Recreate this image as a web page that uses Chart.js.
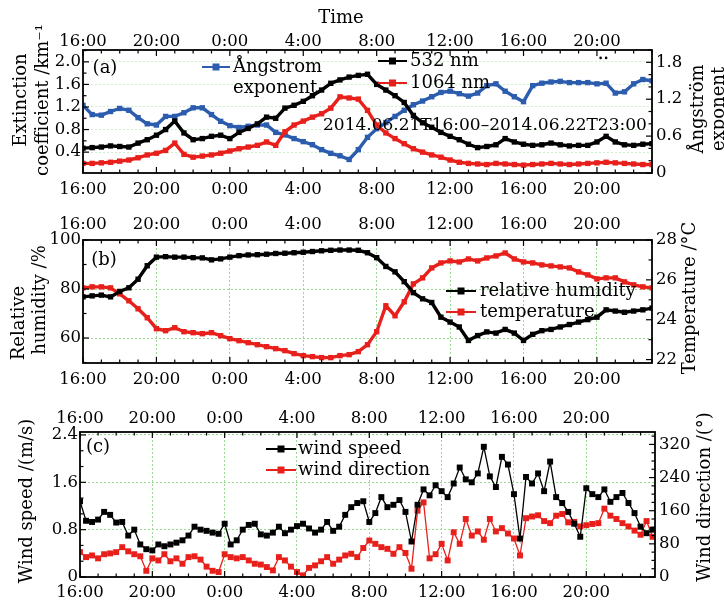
<!DOCTYPE html>
<html>
<head>
<meta charset="utf-8">
<script src="https://cdn.jsdelivr.net/npm/chart.js@4.4.1/dist/chart.umd.min.js"></script>
<style>
  html, body { margin: 0; padding: 0; background: #fff; }
  #wrap { position: relative; width: 724px; height: 601px; }
  canvas { position: absolute; left: 0; }
</style>
</head>
<body>
<div id="wrap">
  <canvas id="chart-a" width="724" height="200" style="top:0px"></canvas>
  <canvas id="chart-b" width="724" height="200" style="top:200px"></canvas>
  <canvas id="chart-c" width="724" height="201" style="top:400px"></canvas>
</div>
<script>
// Time axis: hours after 2014-06-21 16:00
const timeTicks = [0, 4, 8, 12, 16, 20, 24, 28];
const timeLabels = ['16:00', '20:00', '0:00', '4:00', '8:00', '12:00', '16:00', '20:00'];

// Panels (a) and (b) are sampled every 30 min, panel (c) every 20 min
const stepAB = 0.5;
const stepC = 1 / 3;

// (a) extinction coefficient (km^-1) and Angstrom exponent
const ext532 = [0.47, 0.48, 0.49, 0.51, 0.50, 0.49, 0.56, 0.62, 0.70, 0.80, 0.95, 0.74, 0.62, 0.64, 0.68, 0.70,
  0.64, 0.75, 0.82, 0.90, 1.02, 1.00, 1.18, 1.23, 1.30, 1.40, 1.50, 1.62, 1.68, 1.73, 1.76, 1.78,
  1.60, 1.50, 1.40, 1.28, 1.05, 0.92, 0.84, 0.75, 0.68, 0.62, 0.54, 0.48, 0.50, 0.53, 0.64, 0.58,
  0.54, 0.52, 0.53, 0.56, 0.53, 0.51, 0.52, 0.52, 0.58, 0.68, 0.58, 0.53, 0.52, 0.54, 0.55];
const ext1064 = [0.20, 0.20, 0.21, 0.22, 0.24, 0.26, 0.30, 0.35, 0.38, 0.43, 0.56, 0.36, 0.31, 0.33, 0.35, 0.38,
  0.42, 0.46, 0.49, 0.52, 0.58, 0.52, 0.76, 0.88, 0.95, 1.02, 1.08, 1.18, 1.38, 1.36, 1.34, 1.14,
  0.88, 0.74, 0.64, 0.55, 0.46, 0.40, 0.35, 0.31, 0.26, 0.22, 0.20, 0.19, 0.18, 0.20, 0.19, 0.18,
  0.17, 0.18, 0.19, 0.20, 0.19, 0.18, 0.19, 0.20, 0.21, 0.22, 0.21, 0.20, 0.19, 0.18, 0.18];
const angstrom = [1.10, 0.95, 0.94, 1.00, 1.05, 1.02, 0.90, 0.80, 0.78, 0.92, 0.92, 0.98, 1.06, 1.06, 0.95, 0.84,
  0.77, 0.74, 0.76, 0.78, 0.78, 0.66, 0.62, 0.56, 0.51, 0.46, 0.38, 0.32, 0.28, 0.22, 0.38, 0.58,
  0.72, 0.82, 0.92, 1.02, 1.11, 1.17, 1.24, 1.31, 1.33, 1.29, 1.25, 1.30, 1.42, 1.45, 1.33, 1.24,
  1.16, 1.42, 1.46, 1.48, 1.49, 1.47, 1.47, 1.47, 1.45, 1.46, 1.30, 1.32, 1.45, 1.52, 1.50];
const strayHours = [28.2, 28.5];
const strayExt = [2.07, 2.07];

// (b) relative humidity (%) and temperature (deg C)
const humidity = [76.8, 77.2, 77.5, 76.8, 79.0, 80.5, 84.0, 89.5, 93.0, 93.2, 93.0, 93.0, 92.8, 92.7, 91.9, 92.3,
  93.0, 93.6, 93.9, 94.0, 94.2, 94.5, 94.6, 94.8, 95.0, 95.3, 95.6, 95.8, 95.9, 95.9, 95.8, 94.8,
  92.8, 89.2, 87.0, 83.0, 78.5, 76.0, 74.5, 68.5, 66.5, 64.5, 59.0, 61.0, 62.5, 62.0, 63.5, 62.0,
  59.0, 61.5, 63.0, 63.5, 64.5, 65.5, 66.5, 67.5, 68.5, 71.5, 71.0, 70.5, 71.0, 71.5, 72.2];
const temperature = [25.6, 25.65, 25.65, 25.6, 25.3, 24.95, 24.55, 24.1, 23.55, 23.45, 23.6, 23.4, 23.35, 23.3, 23.35, 23.2,
  23.05, 22.95, 22.85, 22.75, 22.65, 22.55, 22.45, 22.3, 22.2, 22.15, 22.1, 22.1, 22.2, 22.25, 22.4, 22.75,
  23.4, 24.7, 24.2, 24.9, 25.8, 26.1, 26.6, 26.85, 26.95, 26.9, 27.05, 26.95, 27.1, 27.2, 27.35, 27.05,
  26.9, 26.85, 26.75, 26.7, 26.65, 26.6, 26.4, 26.25, 26.05, 26.1, 26.1, 25.9, 25.75, 25.65, 25.6];

// (c) wind speed (m/s) and wind direction (deg)
const windSpeed = [1.28, 0.95, 0.93, 0.97, 1.10, 1.05, 0.92, 0.93, 0.70, 0.80,
  0.55, 0.47, 0.45, 0.55, 0.52, 0.55, 0.58, 0.62, 0.70, 0.85,
  0.80, 0.78, 0.75, 0.73, 0.90, 0.55, 0.62, 0.80, 0.88, 0.90,
  0.72, 0.70, 0.75, 0.85, 0.74, 0.80, 0.86, 0.90, 0.82, 0.75,
  0.80, 0.93, 0.78, 0.85, 1.05, 1.18, 1.25, 1.28, 0.93, 1.08,
  1.35, 1.18, 1.22, 1.30, 1.10, 0.60, 1.22, 1.48, 1.38, 1.55,
  1.45, 1.35, 1.58, 1.85, 1.65, 1.60, 1.75, 2.20, 1.70, 1.52,
  2.03, 1.90, 1.40, 0.65, 1.69, 1.58, 1.75, 1.45, 1.95, 1.35,
  1.25, 1.10, 0.90, 0.68, 1.50, 1.40, 1.35, 1.48, 1.27, 1.35,
  1.42, 1.25, 1.08, 0.85, 0.74, 0.80];
const windDir = [60, 48, 52, 45, 55, 57, 60, 72, 62, 55,
  50, 15, 45, 40, 55, 38, 45, 32, 48, 50,
  42, 25, 15, 12, 55, 48, 45, 48, 40, 32,
  30, 24, 16, 48, 40, 25, 12, 4, 22, 28,
  38, 48, 32, 42, 52, 56, 48, 70, 88, 80,
  72, 68, 56, 72, 58, 20, 160, 180, 45, 55,
  80, 40, 108, 80, 140, 100, 110, 90, 140, 110,
  118, 105, 93, 52, 142, 146, 149, 135, 130, 148,
  152, 132, 133, 122, 125, 128, 130, 165, 148, 140,
  130, 122, 112, 102, 135, 97];

// axis tick values and labels
const extTicks = [0.4, 0.8, 1.2, 1.6, 2.0];
const angTicks = [0, 0.6, 1.2, 1.8];
const rhTicks = [60, 80, 100];
const tempTicks = [22, 24, 26, 28];
const speedTicks = [0, 0.8, 1.6, 2.4];
const dirTicks = [0, 80, 160, 240, 320];

const BLACK = '#000000';
const RED = '#e8201c';
const BLUE = '#2c5cae';
const SERIF = 'DejaVu Serif';
const tickFont = { family: SERIF, size: 16.5, lineHeight: 1 };

function points(values, step) {
    return values.map((v, i) => ({ x: i * step, y: v }));
}

function series(label, values, step, color, axis, opts = {}) {
    return Object.assign({
        label: label,
        data: points(values, step),
        yAxisID: axis,
        borderColor: color,
        backgroundColor: color,
        borderWidth: 3.4,
        pointStyle: 'rect',
        pointRadius: 3.8,
        pointBorderWidth: 0,
        tension: 0
    }, opts);
}

function timeAxis(position, max, height, padding, gridColor) {
    return {
        type: 'linear',
        position: position,
        min: 0,
        max: max,
        afterFit: s => { s.height = height; },
        afterBuildTicks: s => { s.ticks = timeTicks.map(v => ({ value: v })); },
        ticks: {
            font: tickFont, color: BLACK, padding: padding, maxRotation: 0, autoSkip: false,
            callback: v => timeLabels[timeTicks.indexOf(v)]
        },
        grid: { display: !!gridColor, drawTicks: false, color: gridColor || 'transparent', lineWidth: 1 },
        border: { display: false, dash: [2, 2] }
    };
}

function valueAxis(position, min, max, tickValues, width, padding, gridColor, fmt) {
    return {
        type: 'linear',
        position: position,
        min: min,
        max: max,
        afterFit: s => { s.width = width; },
        afterBuildTicks: s => { s.ticks = tickValues.map(v => ({ value: v })); },
        ticks: { font: tickFont, color: BLACK, padding: padding, callback: fmt },
        grid: { display: !!gridColor, drawTicks: false, color: gridColor || 'transparent', lineWidth: 1 },
        border: { display: false, dash: [2, 2] }
    };
}

function strokeLine(ctx, x1, y1, x2, y2) {
    ctx.beginPath();
    ctx.moveTo(x1, y1);
    ctx.lineTo(x2, y2);
    ctx.stroke();
}

// frame, inward ticks, axis titles and the in-plot legends
function decorPlugin(d) {
    return {
        id: 'decor',
        afterDraw(chart) {
            const ctx = chart.ctx;
            const a = chart.chartArea;
            ctx.save();
            ctx.strokeStyle = BLACK;
            ctx.lineWidth = 1.2;

            const sx = chart.scales.x;
            for (let h = 0; h <= sx.max + 1e-6; h++) {
                const px = sx.getPixelForValue(h);
                const len = h % 4 === 0 ? 6 : 3.5;
                strokeLine(ctx, px, a.bottom, px, a.bottom - len);
                strokeLine(ctx, px, a.top, px, a.top + len);
            }

            [['y', a.left, 1], ['y2', a.right, -1]].forEach(([id, x0, dir]) => {
                const s = chart.scales[id];
                const step = d.minor[id];
                const major = d.major[id];
                const first = Math.ceil(s.min / step - 1e-6);
                for (let i = first; i * step <= s.max + 1e-6; i++) {
                    const v = i * step;
                    const py = s.getPixelForValue(v);
                    const isMajor = Math.abs(v / major - Math.round(v / major)) < 1e-4;
                    strokeLine(ctx, x0, py, x0 + dir * (isMajor ? 6 : 3.5), py);
                }
            });

            ctx.lineWidth = 1.8;
            ctx.strokeRect(a.left, a.top, a.right - a.left, a.bottom - a.top);

            d.legend.forEach(item => {
                ctx.strokeStyle = item.color;
                ctx.fillStyle = item.color;
                ctx.lineWidth = 2;
                strokeLine(ctx, item.x1, item.y, item.x2, item.y);
                const mid = (item.x1 + item.x2) / 2;
                ctx.fillRect(mid - 3.5, item.y - 3.5, 7, 7);
            });

            ctx.fillStyle = BLACK;
            ctx.textBaseline = 'middle';
            d.texts.forEach(t => {
                ctx.save();
                ctx.font = (t.size || 18) + 'px "' + SERIF + '"';
                ctx.textAlign = t.align || 'center';
                ctx.translate(t.x, t.y);
                if (t.rot) ctx.rotate(t.rot);
                ctx.fillText(t.text, 0, 0);
                ctx.restore();
            });
            ctx.restore();
        }
    };
}

function makePanel(id, datasets, scales, decor) {
    return new Chart(document.getElementById(id), {
        type: 'line',
        data: { datasets: datasets },
        options: {
            responsive: false,
            animation: false,
            devicePixelRatio: 1,
            layout: { padding: 0 },
            plugins: { legend: { display: false }, tooltip: { enabled: false } },
            scales: scales
        },
        plugins: [decorPlugin(decor)]
    });
}

const UP = -Math.PI / 2;
const GRID_A = '#cfeecb';
const GRID = '#9ad894';

// panel (a)
makePanel('chart-a', [
    series('532 nm', ext532, stepAB, BLACK, 'y'),
    series('1064 nm', ext1064, stepAB, RED, 'y'),
    series('Ångstrom exponent', angstrom, stepAB, BLUE, 'y2'),
    {
        label: 'stray', yAxisID: 'y', showLine: false,
        data: strayHours.map((h, i) => ({ x: h, y: strayExt[i] })),
        pointRadius: 1.3, pointBorderWidth: 0, backgroundColor: BLACK
    }
], {
    x: timeAxis('bottom', 31, 27, 8.5),
    x2: timeAxis('top', 31, 50, 0),
    y: valueAxis('left', 0.03, 2.21, extTicks, 83, 2, GRID_A, v => v.toFixed(1)),
    y2: valueAxis('right', 0, 2.0, angTicks, 72, 4, null, v => v === 0 ? '0' : v.toFixed(1))
}, {
    minor: { y: 0.2, y2: 0.2 },
    major: { y: 0.4, y2: 0.6 },
    legend: [
        { color: BLUE, x1: 202, x2: 230, y: 67 },
        { color: BLACK, x1: 378, x2: 407, y: 61 },
        { color: RED, x1: 378, x2: 407, y: 83 }
    ],
    texts: [
        { text: 'Time', x: 341, y: 18 },
        { text: 'Extinction', x: 21, y: 100, rot: UP },
        { text: 'coefficient /km⁻¹', x: 43, y: 100, rot: UP },
        { text: 'Ångström', x: 698, y: 109, rot: UP },
        { text: 'exponent', x: 719, y: 109, rot: UP },
        { text: '(a)', x: 105, y: 68 },
        { text: 'Ångstrom', x: 233, y: 67, align: 'left' },
        { text: 'exponent', x: 233, y: 88, align: 'left' },
        { text: '532 nm', x: 410, y: 61, align: 'left' },
        { text: '1064 nm', x: 410, y: 83, align: 'left' },
        { text: '2014.06.21T16:00–2014.06.22T23:00', x: 323, y: 126, size: 17, align: 'left' }
    ]
});

// panel (b)
makePanel('chart-b', [
    series('relative humidity', humidity, stepAB, BLACK, 'y'),
    series('temperature', temperature, stepAB, RED, 'y2')
], {
    x: timeAxis('bottom', 31, 37, 8.5, GRID),
    x2: timeAxis('top', 31, 40, 7.5),
    y: valueAxis('left', 49.8, 100, rhTicks, 83, 2, GRID, v => String(v)),
    y2: valueAxis('right', 21.83, 28, tempTicks, 72, 4, null, v => String(v))
}, {
    minor: { y: 10, y2: 1 },
    major: { y: 20, y2: 2 },
    legend: [
        { color: BLACK, x1: 446, x2: 476, y: 91 },
        { color: RED, x1: 446, x2: 476, y: 112 }
    ],
    texts: [
        { text: 'Relative', x: 19, y: 123, rot: UP },
        { text: 'humidity /%', x: 40, y: 100, rot: UP },
        { text: 'Temperature /°C', x: 690, y: 98, rot: UP },
        { text: '(b)', x: 104, y: 60 },
        { text: 'relative humidity', x: 480, y: 91, align: 'left' },
        { text: 'temperature', x: 480, y: 112, align: 'left' }
    ]
});

// panel (c)
makePanel('chart-c', [
    series('wind speed', windSpeed, stepC, BLACK, 'y', { borderWidth: 1.3, pointRadius: 4.2 }),
    series('wind direction', windDir, stepC, RED, 'y2', { borderWidth: 1.3, pointRadius: 4.2 })
], {
    x: timeAxis('bottom', 31.8, 24, 7.5, GRID),
    x2: timeAxis('top', 31.8, 32, 5.5),
    y: valueAxis('left', 0, 2.45, speedTicks, 80, 2, GRID, v => v === 0 ? '0' : v.toFixed(1)),
    y2: valueAxis('right', 0, 350, dirTicks, 69, 4, null, v => String(v))
}, {
    minor: { y: 0.8 / 3, y2: 20 },
    major: { y: 0.8, y2: 80 },
    legend: [
        { color: BLACK, x1: 266, x2: 296, y: 49 },
        { color: RED, x1: 266, x2: 296, y: 70 }
    ],
    texts: [
        { text: 'Wind speed /(m/s)', x: 27, y: 101, rot: UP },
        { text: 'Wind direction /(°)', x: 705, y: 97, rot: UP },
        { text: '(c)', x: 98, y: 47 },
        { text: 'wind speed', x: 298, y: 49, align: 'left' },
        { text: 'wind direction', x: 298, y: 70, align: 'left' }
    ]
});
</script>
</body>
</html>
